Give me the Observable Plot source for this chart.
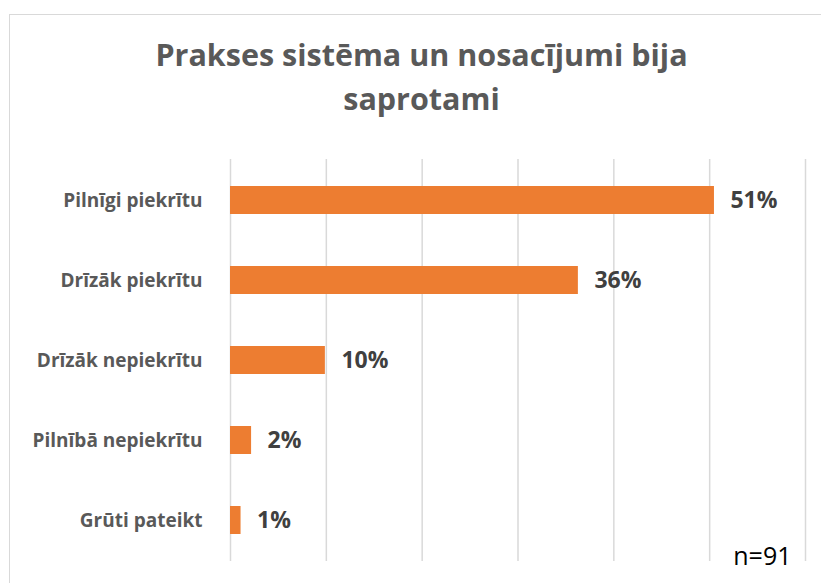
<!DOCTYPE html>
<html>
<head>
<meta charset="utf-8">
<script src="https://cdn.jsdelivr.net/npm/d3@7"></script>
<script src="https://cdn.jsdelivr.net/npm/@observablehq/plot@0.6"></script>
<style>
  html, body { margin: 0; padding: 0; background: #fff; }
  #wrap { position: relative; width: 821px; height: 583px; overflow: hidden; background: #fff; }
  #frame { position: absolute; left: 9px; top: 14px; width: 830px; height: 600px; border: 1.5px solid #d9d9d9; box-sizing: border-box; }
  #title { position: absolute; left: 0; width: 843px; top: 32px; text-align: center;
           font-family: "Open Sans", sans-serif; font-weight: bold; font-size: 30.5px; line-height: 44px; color: #595959; }
  #chart { position: absolute; left: 0; top: 0; }
</style>
</head>
<body>
<div id="wrap">
  <div id="frame"></div>
  <div id="chart"></div>
  <div id="title">Prakses sistēma un nosacījumi bija<br>saprotami</div>
</div>
<script>
const categories = ["Pilnīgi piekrītu", "Drīzāk piekrītu", "Drīzāk nepiekrītu", "Pilnībā nepiekrītu", "Grūti pateikt"];
const values = [50.5, 36.3, 9.9, 2.2, 1.1];
const valueLabels = ["51%", "36%", "10%", "2%", "1%"];
const gridTicks = [0, 10, 20, 30, 40, 50, 60];
const note = "n=91";

const data = categories.map((c, i) => ({category: c, value: values[i], label: valueLabels[i]}));

const chart = Plot.plot({
  width: 821,
  height: 583,
  marginTop: 159,
  marginBottom: 22,
  marginLeft: 230,
  marginRight: 16,
  style: {fontFamily: "'Open Sans', sans-serif", background: "transparent"},
  x: {domain: [0, 60], axis: null},
  y: {domain: categories, paddingInner: 0.65, paddingOuter: 0.325, label: null},
  marks: [
    Plot.ruleX(gridTicks, {stroke: "#d9d9d9", strokeWidth: 1.5}),
    Plot.barX(data, {x: "value", y: "category", fill: "#ED7D31"}),
    Plot.text(data, {x: "value", y: "category", text: "label", textAnchor: "start", dx: 16,
      fill: "#404040", fontWeight: "bold", fontSize: 23}),
    Plot.axisY({tickSize: 0, tickPadding: 28, fontSize: 19, fontWeight: "bold", fill: "#595959", label: null}),
    Plot.text([note], {frameAnchor: "bottom-right", text: d => d, dx: -14, dy: 3, fill: "#000", fontSize: 25, lineAnchor: "bottom"})
  ]
});
document.getElementById("chart").appendChild(chart);
</script>
</body>
</html>
